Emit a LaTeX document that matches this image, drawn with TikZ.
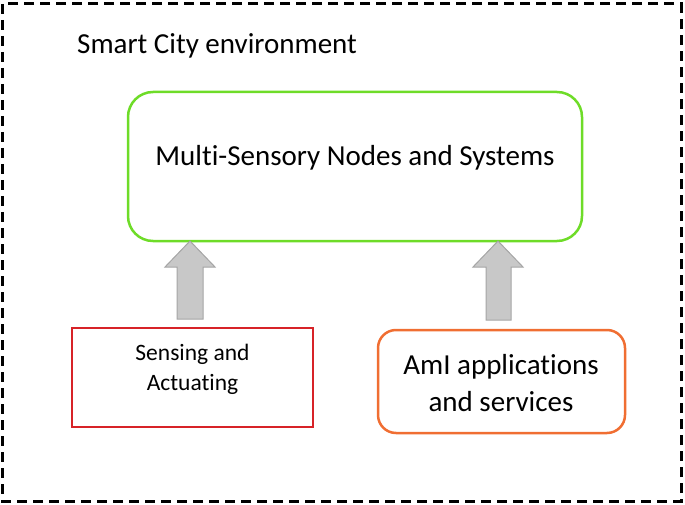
\documentclass[tikz,border=0pt]{standalone}
\usepackage{fontspec}
\setmainfont[Ligatures=NoCommon]{Carlito}
\usetikzlibrary{calc}
\definecolor{boxgreen}{RGB}{110,220,40}
\definecolor{boxred}{RGB}{215,35,40}
\definecolor{boxorange}{RGB}{240,110,50}
\definecolor{arrfill}{RGB}{200,200,200}
\definecolor{arrdraw}{RGB}{165,165,165}
\tikzset{
  frame/.style={draw=black, line width=3pt, dash pattern=on 10pt off 6pt},
  greenbox/.style={draw=boxgreen, line width=2.5pt, rounded corners=25pt},
  redbox/.style={draw=boxred, line width=1.5pt},
  orangebox/.style={draw=boxorange, line width=2.5pt, rounded corners=18pt},
  bigarrow/.style={fill=arrfill, draw=arrdraw, line width=1pt, line join=miter},
  lbl/.style={inner sep=0pt, align=center}
}
\begin{document}
\begin{tikzpicture}[x=1pt,y=-1pt]
\useasboundingbox (0,0) rectangle (685,505);
\draw[frame] (2,4) rectangle (681,501);
\node[lbl, anchor=west, font=\fontsize{29}{34}\selectfont] (title) at (77,46) {Smart City environment};
\draw[greenbox] (128,92) rectangle (582,241);
\node[lbl, font=\fontsize{29}{34}\selectfont] (msn) at (355,158) {Multi-Sensory Nodes and Systems};
\draw[redbox] (72,328) rectangle (313,427);
\node[lbl, font=\fontsize{23.5}{30}\selectfont] (sa) at (192.5,369) {Sensing and\\Actuating};
\draw[orangebox] (378,330) rectangle (625,433);
\node[lbl, font=\fontsize{29}{37}\selectfont] (ami) at (501,383) {AmI applications\\and services};
% arrows
\draw[bigarrow] (190,241) -- (215,267) -- (203,267) -- (203,319) -- (177,319) -- (177,267) -- (165,267) -- cycle;
\draw[bigarrow] (498,241) -- (523,267) -- (511,267) -- (511,320) -- (486,320) -- (486,267) -- (473,267) -- cycle;
\end{tikzpicture}
\end{document}
